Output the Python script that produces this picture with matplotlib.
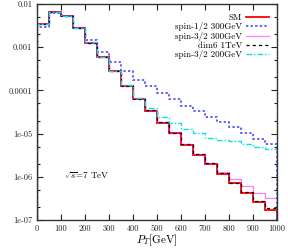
import numpy as np
import matplotlib
matplotlib.use("Agg")
import matplotlib.pyplot as plt
from matplotlib.ticker import FixedLocator, NullFormatter

edges = np.arange(0, 1001, 50)

sm = [3.4e-3, 6.5e-3, 5.3e-3, 2.78e-3, 1.27e-3, 5.8e-4, 2.77e-4, 1.28e-4, 6.4e-5, 3.4e-5,
      1.79e-5, 1.02e-5, 5.5e-6, 3.28e-6, 1.98e-6, 1.16e-6, 7.0e-7, 4.3e-7, 2.65e-7, 1.75e-7]
spin12_300 = [2.98e-3, 6.1e-3, 5.2e-3, 2.78e-3, 1.47e-3, 7.7e-4, 4.5e-4, 2.77e-4, 1.74e-4, 1.26e-4,
              8.6e-5, 6.3e-5, 4.35e-5, 3.34e-5, 2.46e-5, 1.88e-5, 1.4e-5, 1.02e-5, 7.5e-6, 5.65e-6]
spin32_300 = [3.4e-3, 6.5e-3, 5.3e-3, 2.78e-3, 1.27e-3, 5.8e-4, 2.8e-4, 1.3e-4, 6.5e-5, 3.45e-5,
              1.82e-5, 1.04e-5, 5.6e-6, 3.35e-6, 2.12e-6, 1.31e-6, 8.75e-7, 6.1e-7, 4.3e-7, 3.2e-7]
dim6_1tev = [3.4e-3, 6.5e-3, 5.3e-3, 2.78e-3, 1.27e-3, 5.8e-4, 2.78e-4, 1.29e-4, 6.45e-5, 3.45e-5,
             1.82e-5, 1.04e-5, 5.65e-6, 3.38e-6, 2.05e-6, 1.21e-6, 7.3e-7, 4.5e-7, 2.8e-7, 1.85e-7]
spin32_200 = [3.4e-3, 6.6e-3, 5.3e-3, 2.8e-3, 1.3e-3, 5.9e-4, 2.8e-4, 1.3e-4, 6.6e-5, 4.0e-5,
              2.46e-5, 1.73e-5, 1.3e-5, 1.02e-5, 8.1e-6, 7.3e-6, 6.6e-6, 5.7e-6, 5.0e-6, 4.4e-6]

labels = ["SM", "spin-1/2 300GeV", "spin-3/2 300GeV", "dim6 1TeV", "spin-3/2 200GeV"]
xticks = [0, 100, 200, 300, 400, 500, 600, 700, 800, 900, 1000]
yticks = [1e-7, 1e-6, 1e-5, 1e-4, 1e-3, 1e-2]
yticklabels = ["1e-07", "1e-06", "1e-05", "0.0001", "0.001", "0.01"]

plt.rcParams['font.family'] = ['cmr10', 'DejaVu Serif']
plt.rcParams['mathtext.fontset'] = 'cm'
plt.rcParams['axes.formatter.use_mathtext'] = True

fig = plt.figure(figsize=(2.88, 2.48), dpi=100)
ax = fig.add_axes([36.5/288, 1-220/248, (276.7-36.5)/288, (220-4)/248])

ax.stairs(sm, edges, color='#ff0000', lw=1.3, label=labels[0])
ax.stairs(spin12_300, edges, color='#3a3aff', lw=1.1, ls=(0, (1.5, 1.5)), label=labels[1])
ax.stairs(spin32_300, edges, color='#ff00ff', lw=0.9, ls=(0, (0.8, 0.8)), label=labels[2])
ax.stairs(dim6_1tev, edges, color='black', lw=0.9, ls=(0, (2.5, 2.5)), label=labels[3])
ax.stairs(spin32_200, edges, color='#00e5e5', lw=1.0, ls=(0, (4, 1.5, 1, 1.5)), label=labels[4])

ax.set_yscale('log')
ax.set_xlim(0, 1000)
ax.set_ylim(1e-7, 1e-2)
ax.xaxis.set_major_locator(FixedLocator(xticks))
ax.set_xticklabels([str(v) for v in xticks])
ax.yaxis.set_major_locator(FixedLocator(yticks))
ax.set_yticklabels(yticklabels)
minor = [m * 10.0**e for e in range(-7, -2) for m in (2, 5)]
ax.yaxis.set_minor_locator(FixedLocator(minor))
ax.yaxis.set_minor_formatter(NullFormatter())
ax.tick_params(which='both', direction='in', top=True, right=True, labelsize=6, colors='#222222', pad=3)
ax.tick_params(which='major', length=4, width=0.8)
ax.tick_params(which='minor', length=2.5, width=0.8)
for s in ax.spines.values():
    s.set_color('#333333')
    s.set_linewidth(1.0)

ax.set_xlabel(r'$P_T$[GeV]', fontsize=8, labelpad=0)
ax.text(115, 1.05e-6, r'$\sqrt{s}$=7 TeV', fontsize=6.5, va='center', ha='left')

leg = ax.legend(loc='upper right', fontsize=6.5, frameon=False, markerfirst=False,
                handlelength=2.6, handletextpad=0.4, labelspacing=0.05,
                borderaxespad=0.3, bbox_to_anchor=(0.995, 0.985))
for t in leg.get_texts():
    t.set_ha('right')
leg._legend_box.align = 'right'

fig.savefig('out.png', dpi=100)
